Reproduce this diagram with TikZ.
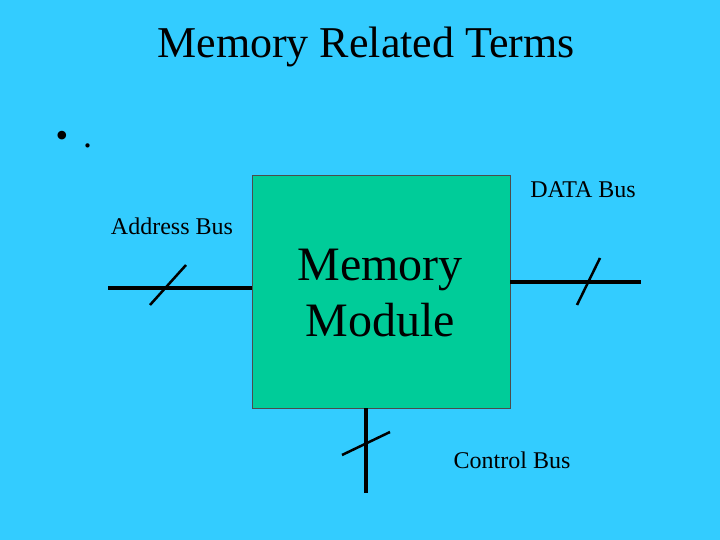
\documentclass[tikz,border=0pt]{standalone}
\usepackage{fontspec}
\setmainfont{Liberation Serif}
\definecolor{bg}{HTML}{33CCFF}
\definecolor{box}{HTML}{00CC99}
\begin{document}
\begin{tikzpicture}[x=1pt,y=-1pt,
  bus/.style={line width=4pt,black},
  sl/.style={line width=2.5pt,black},
  lab/.style={font=\fontsize{24}{26}\selectfont}]
\fill[bg] (0,0) rectangle (720,540);
\useasboundingbox (0,0) rectangle (720,540);
\node[font=\fontsize{44}{48}\selectfont] (title) at (366,47) {Memory Related Terms};
\node[font=\fontsize{36}{40}\selectfont,anchor=west] (bul) at (52,140) {\textbullet\ \,.};
\node[draw=black!70,fill=box,minimum width=258,minimum height=233,inner sep=0,anchor=north west] (m) at (252,175) {};
\node[font=\fontsize{48}{56}\selectfont,align=center] (mt) at (380,293) {Memory\\Module};
\coordinate (a0) at (108,288); \coordinate (a1) at (252,288);
\draw[bus] (a0) -- (a1);
\coordinate (as0) at (150,305); \coordinate (as1) at (186,265);
\draw[sl] (as0) -- (as1);
\node[lab] (al) at (172,226) {Address Bus};
\coordinate (d0) at (510,282); \coordinate (d1) at (641,282);
\draw[bus] (d0) -- (d1);
\coordinate (ds0) at (577,305); \coordinate (ds1) at (600,258);
\draw[sl] (ds0) -- (ds1);
\node[lab] (dl) at (583,190) {DATA Bus};
\coordinate (c0) at (366,408); \coordinate (c1) at (366,493);
\draw[bus] (c0) -- (c1);
\coordinate (cs0) at (342,455); \coordinate (cs1) at (390,432);
\draw[sl] (cs0) -- (cs1);
\node[lab] (cl) at (512,460) {Control Bus};
\end{tikzpicture}
\end{document}
